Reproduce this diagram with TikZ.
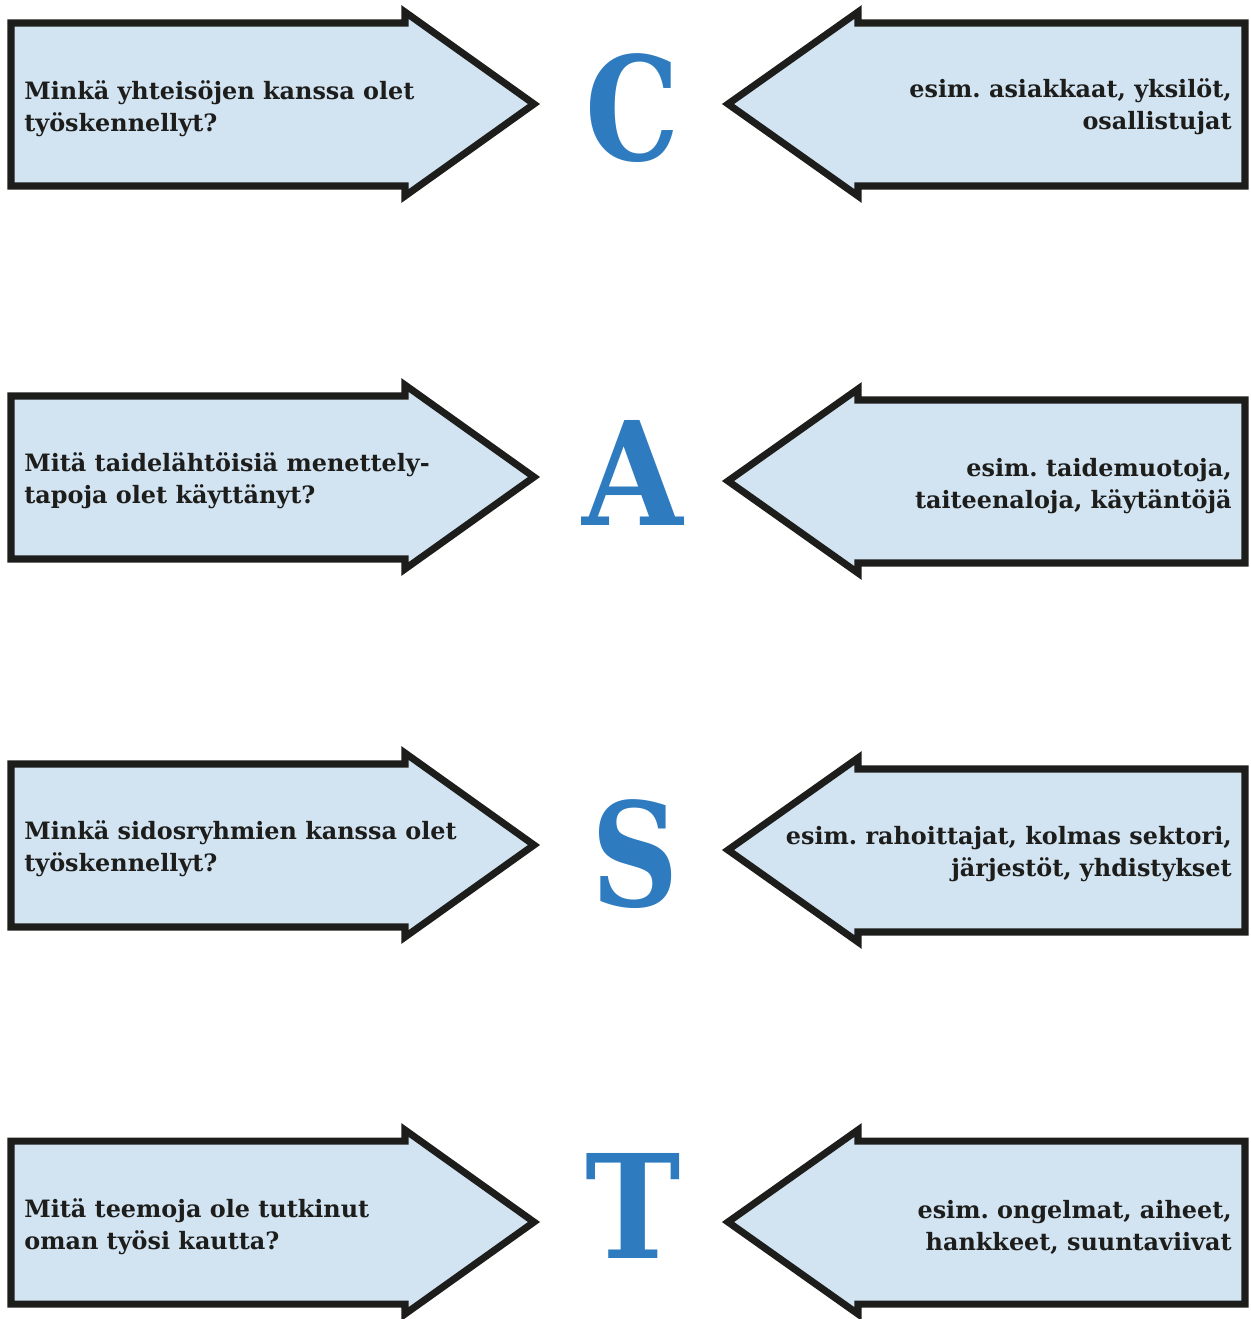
\documentclass[tikz,border=0pt]{standalone}
\usepackage{fontspec}
\setmainfont{DejaVu Serif}
\usepackage{tikz}
\frenchspacing

\definecolor{boxfill}{HTML}{D2E3F1}
\definecolor{boxline}{HTML}{1D1D1B}
\definecolor{letterblue}{HTML}{2E7BBF}

\begin{document}
\begin{tikzpicture}[x=0.02cm, y=-0.02cm,
  arrowbox/.style={fill=boxfill, draw=boxline, line width=4pt, line join=miter},
  question/.style={anchor=west, align=left, font=\bfseries\fontsize{13.6}{18.2}\selectfont, text=boxline, inner sep=0pt},
  example/.style={anchor=east, align=right, font=\bfseries\fontsize{13.6}{18.2}\selectfont, text=boxline, inner sep=0pt},
  bigletter/.style={anchor=base, font=\bfseries\fontsize{82}{82}\selectfont, text=letterblue, inner sep=0pt}]
\useasboundingbox (0,0) rectangle (1251,1319);

% C
\filldraw[arrowbox] (11,23) -- (405,23) -- (405,12) -- (534,104) -- (405,196) -- (405,186) -- (11,186) --cycle;
\node[question] (qC) at (24,109) {Minkä yhteisöjen kanssa olet\\työskennellyt?};
\node[bigletter] (C) at (633,160) {\scalebox{0.82}[1]{C}};
\filldraw[arrowbox] (1245,23) -- (858,23) -- (858,12) -- (728,104) -- (858,196) -- (858,186) -- (1245,186) --cycle;
\node[example] (eC) at (1232,107) {esim. asiakkaat, yksilöt,\\osallistujat};

% A
\filldraw[arrowbox] (11,396) -- (405,396) -- (405,385) -- (534,477) -- (405,569) -- (405,559) -- (11,559) --cycle;
\node[question] (qA) at (24,481) {Mitä taidelähtöisiä menettely-\\tapoja olet käyttänyt?};
\node[bigletter] (A) at (633,525) {\scalebox{0.9}[1]{A}};
\filldraw[arrowbox] (1245,400) -- (858,400) -- (858,389) -- (728,481) -- (858,573) -- (858,563) -- (1245,563) --cycle;
\node[example] (eA) at (1232,486) {esim. taidemuotoja,\\taiteenaloja, käytäntöjä};

% S
\filldraw[arrowbox] (11,764) -- (405,764) -- (405,753) -- (534,845) -- (405,937) -- (405,927) -- (11,927) --cycle;
\node[question] (qS) at (24,849) {Minkä sidosryhmien kanssa olet\\työskennellyt?};
\node[bigletter] (S) at (635,906) {\scalebox{0.84}[1]{S}};
\filldraw[arrowbox] (1245,769) -- (858,769) -- (858,758) -- (728,850) -- (858,942) -- (858,932) -- (1245,932) --cycle;
\node[example] (eS) at (1232,854) {esim. rahoittajat, kolmas sektori,\\järjestöt, yhdistykset};

% T
\filldraw[arrowbox] (11,1141) -- (405,1141) -- (405,1130) -- (534,1222) -- (405,1314) -- (405,1304) -- (11,1304) --cycle;
\node[question] (qT) at (24,1227) {Mitä teemoja ole tutkinut\\oman työsi kautta?};
\node[bigletter] (T) at (633,1258) {\scalebox{0.89}[1]{T}};
\filldraw[arrowbox] (1245,1141) -- (858,1141) -- (858,1130) -- (728,1222) -- (858,1314) -- (858,1304) -- (1245,1304) --cycle;
\node[example] (eT) at (1232,1227) {esim. ongelmat, aiheet,\\hankkeet, suuntaviivat};
\end{tikzpicture}
\end{document}
